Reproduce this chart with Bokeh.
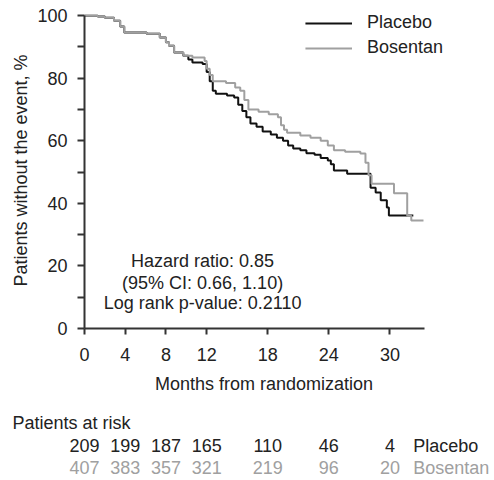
from bokeh.plotting import figure
from bokeh.layouts import column
from bokeh.models import FixedTicker, Label, Legend, LegendItem, Range1d, ColumnDataSource
from bokeh.core.properties import value
from bokeh.embed import file_html
from bokeh.resources import INLINE

# ---------------- data ----------------
placebo_t = [0, 1.3, 2.0, 2.9, 3.5, 3.9, 6.1, 7.4, 8.0, 8.3, 8.8, 9.7, 10.2, 10.6,
             11.6, 12.0, 12.3, 12.6, 12.9, 14.0, 14.7, 15.1, 15.5, 15.9, 16.3, 16.9,
             17.5, 18.3, 18.9, 19.5, 20.0, 20.5, 21.2, 21.8, 22.6, 23.2, 23.9, 24.2,
             24.5, 25.8, 28.1, 28.6, 29.1, 29.7, 29.9, 32.3]
placebo_s = [100, 99.7, 99.3, 98.4, 96.5, 94.6, 94.2, 93, 91.5, 90.4, 88.2, 87.2, 86, 85,
             84.5, 82, 79, 76, 75, 74.5, 73.8, 71.5, 69.5, 67.5, 65.5, 64.5,
             63, 62, 61, 60, 58.5, 57.5, 57, 56, 55.5, 54.5, 53.7, 52.5,
             50.5, 49.5, 45, 43.5, 41, 38.7, 36.1, 36.1]

bosentan_t = [0, 1.3, 2.0, 2.9, 3.5, 3.9, 6.1, 7.4, 8.0, 8.3, 8.8, 9.7, 10.6, 11.8,
              12.0, 12.3, 12.6, 13.9, 14.8, 15.3, 15.7, 16.1, 17.1, 18.1, 19.0, 19.3,
              19.6, 19.9, 21.2, 22.2, 23.2, 23.9, 24.5, 25.6, 27.1, 27.6, 27.9, 28.2,
              30.4, 31.7, 32.1, 33.3]
bosentan_s = [100, 99.7, 99.3, 98.4, 96.5, 94.6, 94.2, 93, 91.5, 90.4, 88.2, 87.2, 86.6, 85.5,
              83, 81, 79, 78.5, 77, 76, 73, 70, 69.3, 68.5, 67.5, 65,
              63.5, 62.6, 61.7, 61, 60, 58.5, 57, 56.5, 55.9, 53, 49, 46.3,
              43.2, 36, 34.5, 34.5]

x_ticks = [0, 4, 8, 12, 18, 24, 30]
y_major = [0, 20, 40, 60, 80, 100]
y_minor = [10, 30, 50, 70, 90]

risk_months = [0, 4, 8, 12, 18, 24, 30]
risk_placebo = ["209", "199", "187", "165", "110", "46", "4"]
risk_bosentan = ["407", "383", "357", "321", "219", "96", "20"]

annotation_lines = ["Hazard ratio: 0.85", "(95% CI: 0.66, 1.10)", "Log rank p-value: 0.2110"]

FONT = "Liberation Sans"
FS = "18px"
DARK = "#222222"
GRAY = "#a0a0a0"

W = 492
PX_PER_MONTH = 10.18
LEFT = 84

# ---------------- main KM plot ----------------
p = figure(width=W, height=400, output_backend="svg", toolbar_location=None,
           x_range=Range1d(0, (443 - LEFT) / PX_PER_MONTH), y_range=Range1d(0, 101),
           min_border_left=LEFT, min_border_right=W - 443, min_border_top=12,
           min_border_bottom=72, frame_align=False)
p.outline_line_color = None
p.xgrid.visible = False
p.ygrid.visible = False

r_pl = p.step(placebo_t, placebo_s, mode="after", line_color="#111111", line_width=2)
r_bo = p.step(bosentan_t, bosentan_s, mode="after", line_color=GRAY, line_width=2)

for ax in (p.xaxis[0], p.yaxis[0]):
    ax.axis_line_color = "#333333"
    ax.axis_line_width = 2
    ax.major_tick_line_color = "#333333"
    ax.major_tick_line_width = 2
    ax.minor_tick_line_color = "#333333"
    ax.minor_tick_line_width = 2
    ax.major_tick_in = 0
    ax.minor_tick_in = 0
    ax.major_label_text_font = FONT
    ax.major_label_text_font_size = FS
    ax.major_label_text_color = DARK
    ax.axis_label_text_font = FONT
    ax.axis_label_text_font_size = FS
    ax.axis_label_text_font_style = "normal"
    ax.axis_label_text_color = DARK

p.xaxis.ticker = FixedTicker(ticks=x_ticks, minor_ticks=[])
p.xaxis.bounds = (0, 33.4)
p.xaxis.major_tick_out = 6
p.xaxis.major_label_standoff = 13
p.xaxis.axis_label = "Months from randomization"
p.xaxis.axis_label_standoff = 10

p.yaxis.ticker = FixedTicker(ticks=y_major, minor_ticks=y_minor)
p.yaxis.bounds = (0, 100)
p.yaxis.major_tick_out = 7
p.yaxis.minor_tick_out = 7
p.yaxis.major_label_standoff = 10
p.yaxis.axis_label = "Patients without the event, %"
p.yaxis.axis_label_standoff = 3

legend = Legend(items=[LegendItem(label="Placebo", renderers=[r_pl]),
                       LegendItem(label="Bosentan", renderers=[r_bo])],
                location="top_right", padding=0, margin=0, spacing=4,
                glyph_width=47, glyph_height=20, label_height=20,
                label_standoff=15, border_line_alpha=0, background_fill_alpha=0,
                label_text_font=FONT, label_text_font_size=FS, label_text_color=DARK)
p.add_layout(legend)

ann_y = [21.7, 14.7, 8.0]
for txt, yy in zip(annotation_lines, ann_y):
    p.add_layout(Label(x=11.6, y=yy, text=txt, text_align="center", text_baseline="middle",
                       text_font=FONT, text_font_size=FS, text_color=DARK))

# ---------------- patients-at-risk table ----------------
r = figure(width=W, height=80, output_backend="svg", toolbar_location=None,
           x_range=Range1d(-LEFT / PX_PER_MONTH, (W - LEFT) / PX_PER_MONTH),
           y_range=Range1d(80, 0), min_border=0, frame_align=False,
           x_axis_location=None, y_axis_location=None)
r.outline_line_color = None
r.xgrid.visible = False
r.ygrid.visible = False

row_title_y = 22
row_pl_y = 45
row_bo_y = 67
name_x = 32.3

r.text(x=[-72 / PX_PER_MONTH], y=[row_title_y], text=["Patients at risk"],
       text_align="left", text_baseline="middle", text_font=value(FONT),
       text_font_size=FS, text_color=DARK)
src_pl = ColumnDataSource(dict(x=risk_months, y=[row_pl_y] * len(risk_months), t=risk_placebo))
src_bo = ColumnDataSource(dict(x=risk_months, y=[row_bo_y] * len(risk_months), t=risk_bosentan))
r.text(x="x", y="y", text="t", source=src_pl, text_align="center", text_baseline="middle",
       text_font=value(FONT), text_font_size=FS, text_color=DARK)
r.text(x="x", y="y", text="t", source=src_bo, text_align="center", text_baseline="middle",
       text_font=value(FONT), text_font_size=FS, text_color=GRAY)
r.text(x=[name_x, name_x], y=[row_pl_y, row_bo_y], text=["Placebo", "Bosentan"],
       text_align="left", text_baseline="middle", text_font=value(FONT),
       text_font_size=FS, text_color=[DARK, GRAY])

layout = column(p, r, spacing=0)
open("out.html", "w").write(file_html(layout, INLINE))
